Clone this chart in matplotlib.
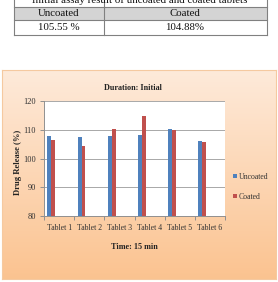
import numpy as np
import matplotlib
matplotlib.use("Agg")
import matplotlib.pyplot as plt
from matplotlib.patches import Rectangle
from matplotlib.lines import Line2D

categories = ["Tablet 1", "Tablet 2", "Tablet 3", "Tablet 4", "Tablet 5", "Tablet 6"]
uncoated = [108.0, 107.5, 107.7, 108.3, 110.1, 106.0]
coated = [106.3, 104.2, 110.1, 114.7, 109.8, 105.6]
yticks = [80, 90, 100, 110, 120]
table_title = "Initial assay result of uncoated and coated tablets"
table_header = ["Uncoated", "Coated"]
table_values = ["105.55 %", "104.88%"]

W, H = 278, 282
plt.rcParams['font.family'] = ['Liberation Serif', 'DejaVu Serif']
fig = plt.figure(figsize=(W / 100, H / 100), dpi=100)
fig.patch.set_facecolor('white')

def fx(px):
    return px / W

def fy(py):
    return 1 - py / H

# ---- table at top ----
tx0, tx1, tdiv = 14, 267, 104
ty_top, ty_mid, ty_bot = 7, 20, 34.5
fig.patches.append(Rectangle((fx(tx0), fy(ty_mid)), fx(tx1) - fx(tx0), fy(ty_top) - fy(ty_mid),
                             transform=fig.transFigure, facecolor='#d4d4d4', edgecolor='none'))
lc = '#808080'
for yy in [ty_top, ty_mid, ty_bot]:
    fig.lines.append(Line2D([fx(tx0), fx(tx1)], [fy(yy), fy(yy)], transform=fig.transFigure, color=lc, lw=0.8))
for xx in [tx0, tdiv, tx1]:
    fig.lines.append(Line2D([fx(xx), fx(xx)], [fy(-5), fy(ty_bot)], transform=fig.transFigure, color=lc, lw=0.8))
fig.text(fx(140), fy(0.5), table_title, ha='center', va='center', fontsize=7.8, color='#111111')
fig.text(fx(59), fy(13.5), table_header[0], ha='center', va='center', fontsize=7.8, color='#111111')
fig.text(fx(185), fy(13.5), table_header[1], ha='center', va='center', fontsize=7.8, color='#111111')
fig.text(fx(59), fy(27.5), table_values[0], ha='center', va='center', fontsize=7.8, color='#111111')
fig.text(fx(185), fy(27.5), table_values[1], ha='center', va='center', fontsize=7.8, color='#111111')

# ---- gradient chart box ----
bx0, bx1, by0, by1 = 2, 276, 70, 279
bg = fig.add_axes([fx(bx0), fy(by1), fx(bx1) - fx(bx0), fy(by0) - fy(by1)])
top = np.array([0.996, 0.918, 0.855])
bot = np.array([0.984, 0.765, 0.565])
t = np.linspace(0, 1, 256)[:, None]
grad = top[None, :] * (1 - t) + bot[None, :] * t
bg.imshow(grad[:, None, :].repeat(2, axis=1), aspect='auto', extent=[0, 1, 0, 1])
bg.set_xticks([]); bg.set_yticks([])
for s in bg.spines.values():
    s.set_color('#f5c9a0'); s.set_linewidth(0.8)

# ---- chart axes ----
px0, px1, py0, py1 = 44, 225, 101, 216
ax = fig.add_axes([fx(px0), fy(py1), fx(px1) - fx(px0), fy(py0) - fy(py1)])
ax.set_facecolor('white')
x = np.arange(len(categories))
bw = 0.13
off = -0.5 + 0.115
ax.bar(x + off, uncoated, width=bw, align='edge', color='#4f81bd', label='Uncoated', zorder=3)
ax.bar(x + off + bw, coated, width=bw, align='edge', color='#c0504d', label='Coated', zorder=3)
ax.set_xlim(-0.5, len(categories) - 0.5)
ax.set_ylim(80, 120)
ax.set_yticks(yticks)
ax.set_yticklabels([str(v) for v in yticks], fontsize=6, color='#333333')
ax.yaxis.grid(True, color='#a8a8a8', lw=0.7, zorder=0)
ax.set_xticks(x)
ax.set_xticklabels(categories, fontsize=5.6, color='#333333')
ax.set_xticks(np.arange(-0.5, len(categories)), minor=True)
ax.tick_params(axis='x', which='major', length=0, pad=6)
ax.tick_params(axis='x', which='minor', length=3, color='#909090', width=0.7)
ax.tick_params(axis='y', length=3, color='#909090', width=0.7, pad=3)
for side in ['top', 'right']:
    ax.spines[side].set_visible(False)
ax.spines['left'].set_color('#909090')
ax.spines['bottom'].set_color('#909090')
ax.spines['left'].set_linewidth(0.7)
ax.spines['bottom'].set_linewidth(0.7)

fig.text(fx(133), fy(88), 'Duration: Initial', ha='center', va='center', fontsize=5.9, fontweight='bold', color='#222222')
fig.text(fx(134.5), fy(247), 'Time: 15 min', ha='center', va='center', fontsize=5.9, fontweight='bold', color='#222222')
fig.text(fx(18.5), fy(162), 'Drug Release (%)', ha='center', va='center', rotation=90, fontsize=6.2, fontweight='bold', color='#222222')

leg = fig.legend(loc='center left', bbox_to_anchor=(fx(233), fy(187)), frameon=False, fontsize=5.6,
                 handlelength=0.45, handleheight=0.45, handletextpad=0.25, labelspacing=1.5,
                 borderpad=0, borderaxespad=0)
for txt in leg.get_texts():
    txt.set_color('#333333')

fig.savefig('out.png', dpi=100)
